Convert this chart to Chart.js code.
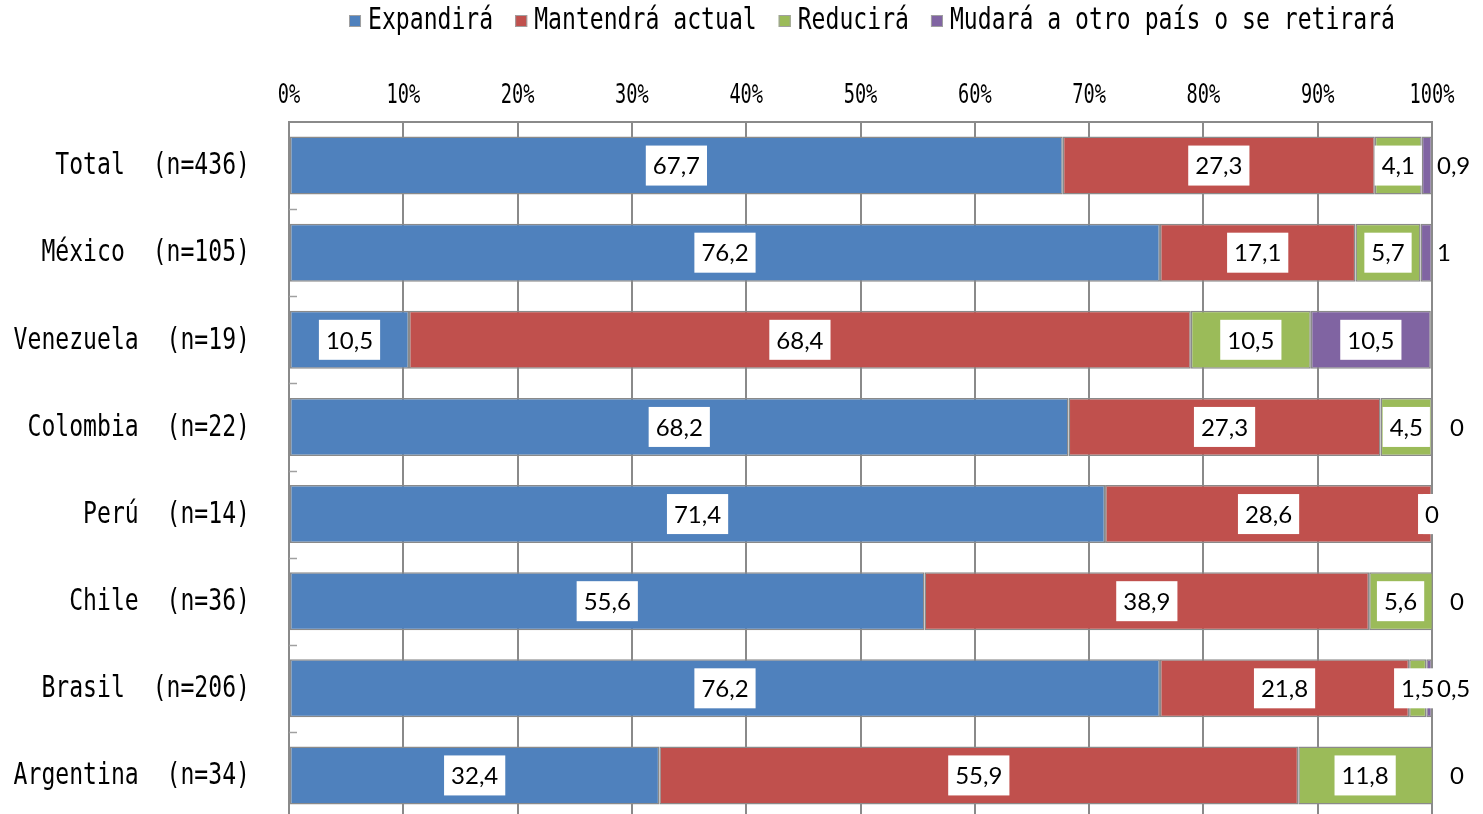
<!DOCTYPE html>
<html>
<head>
<meta charset="utf-8">
<script src="https://cdn.jsdelivr.net/npm/chart.js@4/dist/chart.umd.min.js"></script>
<style>
  html,body{margin:0;padding:0;background:#fff;overflow:hidden;}
  #wrap{width:1483px;height:819px;}
</style>
</head>
<body>
<div id="wrap"><canvas id="c" width="1483" height="819"></canvas></div>
<script>
const categories = ['Total','México','Venezuela','Colombia','Perú','Chile','Brasil','Argentina'];
const sampleSizes = ['(n=436)','(n=105)','(n=19)','(n=22)','(n=14)','(n=36)','(n=206)','(n=34)'];
const seriesNames = ['Expandirá','Mantendrá actual','Reducirá','Mudará a otro país o se retirará'];
const expandira = [67.7, 76.2, 10.5, 68.2, 71.4, 55.6, 76.2, 32.4];
const mantendra = [27.3, 17.1, 68.4, 27.3, 28.6, 38.9, 21.8, 55.9];
const reducira  = [4.1, 5.7, 10.5, 4.5, 0, 5.6, 1.5, 11.8];
const mudara    = [0.9, 1, 10.5, 0, 0, 0, 0.5, 0];
const xTickLabels = ['0%','10%','20%','30%','40%','50%','60%','70%','80%','90%','100%'];
const seriesColors = ['#4F81BD','#C0504D','#9BBB59','#8064A2'];

const MONO = '"DejaVu Sans Mono", monospace';
const GRID = '#8a8a8a';

function condensedText(ctx, text, x, y, font, sx, align){
  ctx.save();
  ctx.font = font;
  ctx.textBaseline = 'middle';
  ctx.textAlign = align;
  ctx.fillStyle = '#000';
  ctx.translate(x, y);
  ctx.scale(sx, 1);
  ctx.fillText(text, 0, 0);
  ctx.restore();
}
function fmt(v){ return String(v).replace('.', ','); }

const overlay = {
  id: 'overlay',
  afterDraw(chart){
    const ctx = chart.ctx;
    const xs = chart.scales.x, ys = chart.scales.y;
    const area = chart.chartArea;
    // category labels
    categories.forEach((c, i) => {
      const y = ys.getPixelForValue(i);
      condensedText(ctx, c + '  ' + sampleSizes[i], 250, y + 1, '30px ' + MONO, 0.77, 'right');
    });
    // x tick labels
    xs.ticks.forEach((t, k) => {
      const x = xs.getPixelForValue(t.value);
      condensedText(ctx, xTickLabels[k], x, 96, '27px ' + MONO, 0.69, 'center');
    });
    // inner y tick marks at category boundaries
    ctx.save();
    ctx.strokeStyle = '#a0a0a0';
    ctx.lineWidth = 1.5;
    for (let i = 0; i < categories.length - 1; i++) {
      const y = Math.round((ys.getPixelForValue(i) + ys.getPixelForValue(i + 1)) / 2) + 0.5;
      ctx.beginPath();
      ctx.moveTo(area.left, y);
      ctx.lineTo(area.left + 8, y);
      ctx.stroke();
    }
    ctx.restore();
    // legend
    const sx = 0.77;
    ctx.save();
    ctx.font = '30px ' + MONO;
    const widths = seriesNames.map(n => ctx.measureText(n).width * sx);
    ctx.restore();
    const box = 12, gap = 7, itemGap = 22;
    let total = 0;
    widths.forEach((w, k) => { total += box + gap + w + (k < widths.length - 1 ? itemGap : 0); });
    let x = 872 - total / 2;
    const ly = 21;
    seriesNames.forEach((n, k) => {
      ctx.save();
      ctx.fillStyle = seriesColors[k];
      ctx.fillRect(x, ly - 6, box, box);
      ctx.strokeStyle = '#a0a0a0';
      ctx.lineWidth = 1;
      ctx.strokeRect(x + 0.5, ly - 5.5, box - 1, box - 1);
      ctx.restore();
      condensedText(ctx, n, x + box + gap, ly, '30px ' + MONO, sx, 'left');
      x += box + gap + widths[k] + itemGap;
    });
    // data labels
    const lastIdx = chart.data.datasets.length - 1;
    ctx.save();
    ctx.font = '24px Lato, "Open Sans", sans-serif';
    ctx.textBaseline = 'middle';
    ctx.textAlign = 'center';
    chart.data.datasets.forEach((ds, di) => {
      const meta = chart.getDatasetMeta(di);
      meta.data.forEach((el, i) => {
        const v = ds.data[i];
        const txt = fmt(v);
        const tw = ctx.measureText(txt).width;
        const start = Math.min(el.base, el.x), end = Math.min(Math.max(el.base, el.x), area.right);
        let cx = (start + end) / 2;
        let pad = 14;
        if (di === lastIdx && v < 2) {
          pad = 4;
          if (v === 0) {
            cx = (reducira[i] === 0) ? area.right : area.right + 25;
          } else {
            cx = area.right + 5 + tw / 2;
          }
        }
        const y = el.y;
        const bw = tw + pad, bh = 40;
        ctx.fillStyle = '#fff';
        ctx.fillRect(cx - bw / 2, y - bh / 2, bw, bh);
        ctx.fillStyle = '#000';
        ctx.fillText(txt, cx, y + 1);
      });
    });
    ctx.restore();
  }
};

const values = [expandira, mantendra, reducira, mudara];
new Chart(document.getElementById('c'), {
  type: 'bar',
  data: {
    labels: categories,
    datasets: seriesNames.map((n, k) => ({
      label: n,
      data: values[k],
      backgroundColor: seriesColors[k],
      borderColor: GRID,
      borderWidth: 1.5,
      borderSkipped: false,
      barPercentage: 0.665,
      categoryPercentage: 1
    }))
  },
  options: {
    indexAxis: 'y',
    responsive: false,
    animation: false,
    layout: { padding: { left: 0, right: 51, top: 0, bottom: 0 } },
    plugins: { legend: { display: false }, tooltip: { enabled: false } },
    scales: {
      x: {
        position: 'top',
        stacked: true,
        min: 0, max: 100,
        ticks: { stepSize: 10, display: false },
        grid: { color: GRID, lineWidth: 2, drawTicks: false },
        border: { display: true, color: GRID, width: 2 },
        afterFit: s => { s.height = 122; }
      },
      y: {
        stacked: true,
        ticks: { display: false },
        grid: { display: false },
        border: { display: true, color: GRID, width: 2 },
        afterFit: s => { s.width = 289; }
      }
    }
  },
  plugins: [overlay]
});
</script>
</body>
</html>
